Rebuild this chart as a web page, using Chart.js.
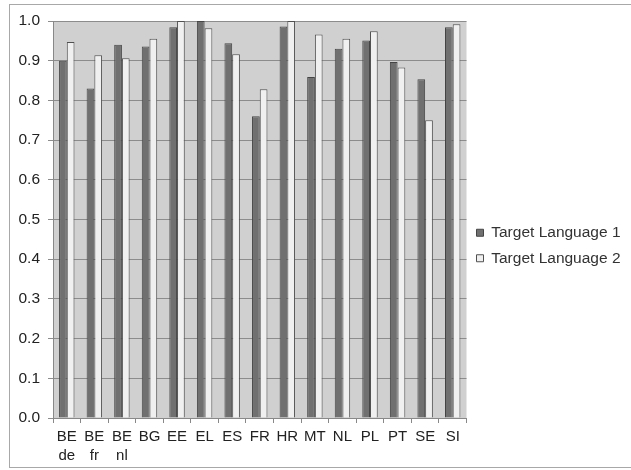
<!DOCTYPE html>
<html>
<head>
<meta charset="utf-8">
<script src="https://cdn.jsdelivr.net/npm/chart.js@4"></script>
<style>
  html, body { margin: 0; padding: 0; background: #fff; }
  #wrap { width: 631px; height: 470px; position: relative; }
</style>
</head>
<body>
<div id="wrap"><canvas id="myChart" width="631" height="470"></canvas></div>
<script>
// values
var categories = [["BE", "de"], ["BE", "fr"], ["BE", "nl"], "BG", "EE", "EL", "ES", "FR", "HR", "MT", "NL", "PL", "PT", "SE", "SI"];
var lang1Values = [0.900, 0.830, 0.940, 0.936, 0.984, 1.000, 0.944, 0.760, 0.986, 0.859, 0.930, 0.951, 0.897, 0.853, 0.984];
var lang2Values = [0.947, 0.914, 0.906, 0.955, 1.000, 0.982, 0.916, 0.828, 1.000, 0.966, 0.955, 0.974, 0.883, 0.750, 0.992];
var yTicks = [0, 0.1, 0.2, 0.3, 0.4, 0.5, 0.6, 0.7, 0.8, 0.9, 1.0];

// grey plot area + outer frame
var backdrop = {
    id: "backdrop",
    beforeDraw: function(chart) {
        var ctx = chart.ctx;
        var a = chart.chartArea;
        ctx.save();
        ctx.fillStyle = "#d0d0d0";
        ctx.fillRect(a.left, a.top, a.right - a.left, a.bottom - a.top);
        ctx.strokeStyle = "#a8a8a8";
        ctx.lineWidth = 1;
        ctx.strokeRect(9.5, 4.5, 640, 463);
        ctx.restore();
    }
};

new Chart("myChart", {
    type: "bar",
    data: {
        labels: categories,
        datasets: [{
            label: "Target Language 1",
            data: lang1Values,
            backgroundColor: "#707070",
            borderColor: "#454545",
            borderWidth: 1,
            barPercentage: 1.0,
            categoryPercentage: 0.56
        }, {
            label: "Target Language 2",
            data: lang2Values,
            backgroundColor: "#f0f0f0",
            borderColor: "#505050",
            borderWidth: 1,
            barPercentage: 1.0,
            categoryPercentage: 0.56
        }]
    },
    options: {
        responsive: false,
        animation: false,
        layout: { padding: { top: 21, right: 9, left: 0, bottom: 0 } },
        plugins: {
            legend: {
                position: "right",
                labels: {
                    color: "#333",
                    boxWidth: 7,
                    boxHeight: 7,
                    padding: 10,
                    font: { family: "Liberation Sans, Arial", size: 15.5 }
                }
            },
            tooltip: { enabled: false }
        },
        scales: {
            x: {
                grid: { display: true, drawOnChartArea: false, color: "#888", tickLength: 5 },
                border: { color: "#888" },
                ticks: {
                    color: "#222",
                    maxRotation: 0,
                    autoSkip: false,
                    padding: 4,
                    font: { family: "Liberation Sans, Arial", size: 15, lineHeight: 1.3 }
                },
                afterFit: function(scale) { scale.height = 52; }
            },
            y: {
                min: 0,
                max: 1,
                afterBuildTicks: function(scale) {
                    scale.ticks = yTicks.map(function(v) { return { value: v }; });
                },
                grid: { color: "#8c8c8c", tickLength: 5 },
                border: { color: "#888" },
                ticks: {
                    color: "#222",
                    padding: 8,
                    font: { family: "Liberation Sans, Arial", size: 15.5 },
                    callback: function(v) { return Number(v).toFixed(1); }
                },
                afterFit: function(scale) { scale.width = 53; }
            }
        }
    },
    plugins: [backdrop]
});
</script>
</body>
</html>
